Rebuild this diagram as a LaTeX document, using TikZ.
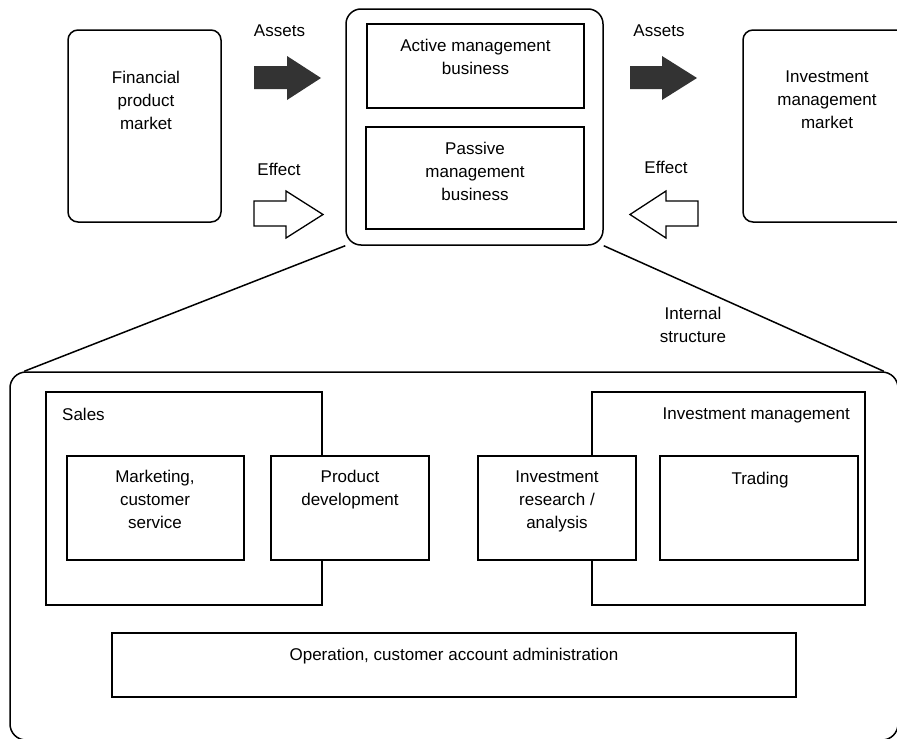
\documentclass[tikz,border=0pt]{standalone}
\usepackage{fontspec}
\setmainfont{Liberation Sans}
\usepackage{xcolor}
\usepackage{tikz}

\tikzset{
  mktbox/.style={draw, line width=1.5pt, rounded corners=10pt, inner sep=0pt},
  unitbox/.style={draw, line width=1.5pt, inner sep=0pt, fill=white},
  txt/.style={align=center, inner sep=0pt, anchor=north},
  assetarrow/.style={fill=black!80},
  effectarrow/.style={draw, fill=white, line width=1.3pt},
  link/.style={line width=1.5pt}
}

\begin{document}
\begin{tikzpicture}[x=1pt, y=-1pt, font=\fontsize{17}{23}\selectfont]
\useasboundingbox (0,0) rectangle (897,739);

% markets
\node[mktbox, minimum width=153pt, minimum height=192pt] (finmkt) at (144.5,126) {};
\node[txt] (finlbl) at (146,71) {Financial\\product\\market};
\node[mktbox, minimum width=168pt, minimum height=192pt] (invmkt) at (827,126) {};
\node[txt] (invmktlbl) at (827,71) {Investment\\management\\market};

% company
\node[mktbox, rounded corners=15pt, minimum width=257pt, minimum height=236pt] (core) at (474.5,127) {};
\node[unitbox, minimum width=217pt, minimum height=84pt] (active) at (475.5,66) {};
\node[txt] (activelbl) at (475.5,39) {Active management\\business};
\node[unitbox, minimum width=218pt, minimum height=102pt] (passive) at (475,178) {};
\node[txt] (passivelbl) at (475,142) {Passive\\management\\business};

% flows
\fill[assetarrow] (254,66) -- (287,66) -- (287,56) -- (321,78) -- (287,100) -- (287,89) -- (254,89) -- cycle;
\fill[assetarrow] (630,66) -- (662,66) -- (662,56) -- (697,78) -- (662,100) -- (662,89) -- (630,89) -- cycle;
\draw[effectarrow] (254,201) -- (286,201) -- (286,191) -- (323,214.5) -- (286,238) -- (286,226) -- (254,226) -- cycle;
\draw[effectarrow] (698,201) -- (666,201) -- (666,191) -- (630,214.5) -- (666,238) -- (666,226) -- (698,226) -- cycle;
\node[txt] (assetsL) at (279.5,25) {Assets};
\node[txt] (effectL) at (279,163) {Effect};
\node[txt] (assetsR) at (659,25) {Assets};
\node[txt] (effectR) at (666,161) {Effect};

% internal structure
\node[mktbox, rounded corners=16pt, minimum width=888pt, minimum height=368pt] (inner) at (454,556) {};
\draw[link] (core.south west) -- ([xshift=15pt]inner.north west);
\draw[link] (core.south east) -- ([xshift=-15pt]inner.north east);
\node[txt] (internallbl) at (693,307) {Internal\\structure};

\node[unitbox, minimum width=276pt, minimum height=213pt] (sales) at (184,498.5) {};
\node[txt, anchor=north west] (saleslbl) at (62,408) {Sales};
\node[unitbox, minimum width=177pt, minimum height=104pt] (mkting) at (155.5,508) {};
\node[txt] (mktinglbl) at (155,470) {Marketing,\\customer\\service};
\node[unitbox, minimum width=158pt, minimum height=104pt] (proddev) at (350,508) {};
\node[txt] (proddevlbl) at (350,470) {Product\\development};

\node[unitbox, minimum width=273pt, minimum height=213pt] (invmgmt) at (728.5,498.5) {};
\node[txt, anchor=north east] (invmgmtlbl) at (850,408) {Investment management};
\node[unitbox, minimum width=158pt, minimum height=104pt] (research) at (557,508) {};
\node[txt] (researchlbl) at (557,471) {Investment\\research /\\analysis};
\node[unitbox, minimum width=198pt, minimum height=104pt] (trading) at (759,508) {};
\node[txt] (tradinglbl) at (760,472) {Trading};

\node[unitbox, minimum width=684pt, minimum height=64pt] (ops) at (454,665) {};
\node[txt] (opslbl) at (454,648) {Operation, customer account administration};

\end{tikzpicture}
\end{document}
